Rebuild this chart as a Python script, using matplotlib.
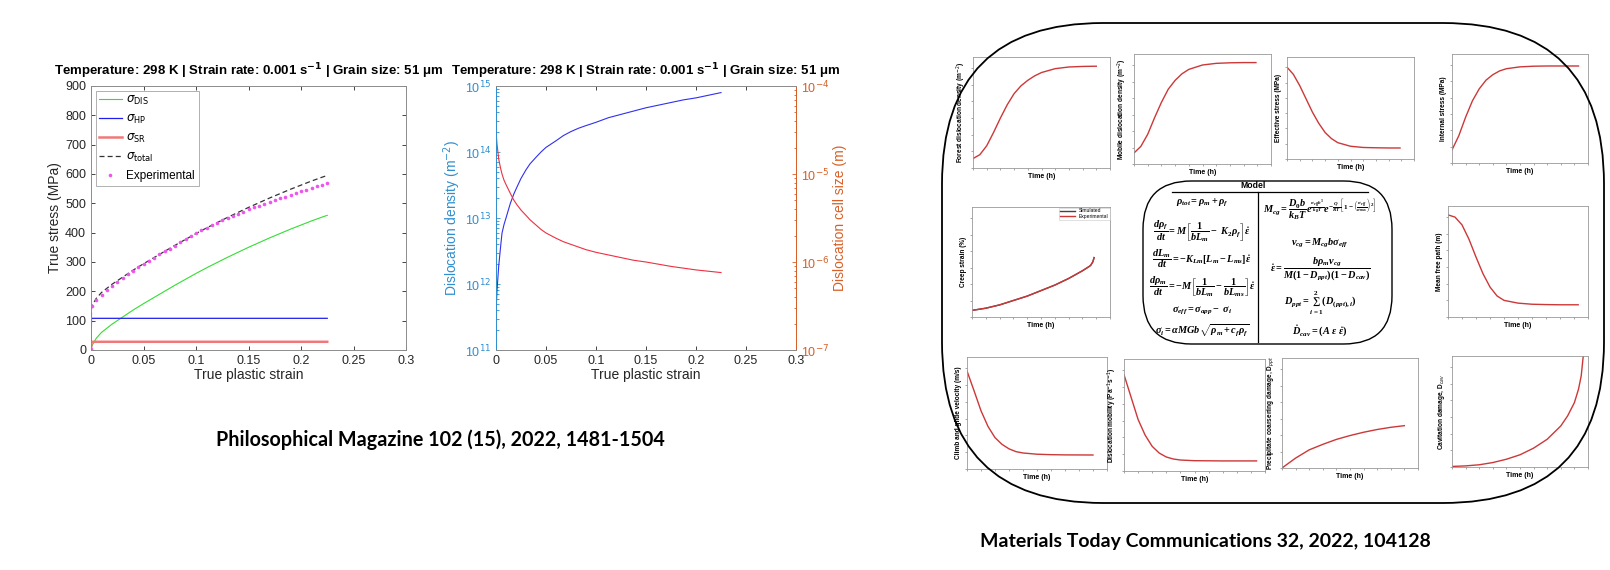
import numpy as np
import matplotlib
matplotlib.use('Agg')
import matplotlib.pyplot as plt
from matplotlib.patches import FancyBboxPatch
from matplotlib.lines import Line2D
from matplotlib.ticker import LogLocator, NullFormatter, MultipleLocator

plt.rcParams['font.family'] = ['Liberation Sans', 'DejaVu Sans']
plt.rcParams['mathtext.fontset'] = 'dejavusans'
# fonts used only by the equation block (math_fontfamily='custom')
plt.rcParams['mathtext.rm'] = 'Liberation Serif:bold'
plt.rcParams['mathtext.it'] = 'Liberation Serif:italic:bold'
plt.rcParams['mathtext.bf'] = 'Liberation Serif:bold'

# ---------------- data: stress contributions (left chart) ----------------
strain = [0, 0.0005, 0.005, 0.01, 0.02, 0.03, 0.04, 0.05, 0.06, 0.07, 0.08, 0.09,
          0.1, 0.11, 0.12, 0.13, 0.14, 0.15, 0.16, 0.17, 0.18, 0.19, 0.2, 0.21,
          0.22, 0.225]
sigma_dis = [0, 12, 40, 60, 88, 112, 136, 158, 179, 200, 221, 241, 261, 280, 298,
             316, 333, 350, 366, 382, 397, 412, 426, 440, 453, 459]
sigma_hp_level = 108
sigma_sr_level = 28

exp_strain = [0, 0.0005, 0.005, 0.01, 0.015, 0.02, 0.025, 0.03, 0.035, 0.04, 0.045,
              0.05, 0.055, 0.06, 0.065, 0.07, 0.075, 0.08, 0.085, 0.09, 0.095, 0.1,
              0.105, 0.11, 0.115, 0.12, 0.125, 0.13, 0.135, 0.14, 0.145, 0.15, 0.155,
              0.16, 0.165, 0.17, 0.175, 0.18, 0.185, 0.19, 0.195, 0.2, 0.205, 0.21,
              0.215, 0.22, 0.225]
exp_stress = [3, 150, 172, 188, 203, 218, 232, 246, 258, 270, 282, 294, 305, 315, 326,
              336, 346, 356, 367, 378, 389, 399, 408, 417, 426, 434, 442, 450, 458,
              465, 472, 479, 486, 492, 499, 505, 511, 517, 523, 529, 535, 541, 547,
              553, 558, 564, 569]

# ---------------- data: dislocation density / cell size (middle chart) ----------------
rho_strain = [0, 0.001, 0.0027, 0.0045, 0.006, 0.008, 0.01, 0.0143, 0.018, 0.021, 0.025,
              0.03, 0.034, 0.04, 0.045, 0.05, 0.06, 0.0675, 0.075, 0.0825, 0.09, 0.1,
              0.1125, 0.125, 0.1375, 0.15, 0.1625, 0.175, 0.1875, 0.2, 0.2125, 0.225]
rho_log = [11.57, 11.9, 12.27, 12.55, 12.77, 12.9, 13.0, 13.22, 13.37, 13.47, 13.6,
           13.73, 13.82, 13.92, 14.0, 14.07, 14.17, 14.25, 14.31, 14.36, 14.4, 14.45,
           14.52, 14.57, 14.62, 14.67, 14.71, 14.75, 14.79, 14.82, 14.86, 14.9]
cell_strain = rho_strain
cell_log = [-4.51, -4.66, -4.83, -4.93, -5.0, -5.07, -5.12, -5.22, -5.3, -5.35, -5.41,
            -5.47, -5.52, -5.58, -5.63, -5.67, -5.73, -5.77, -5.8, -5.83, -5.86, -5.89,
            -5.92, -5.95, -5.98, -6.0, -6.025, -6.05, -6.07, -6.09, -6.105, -6.12]

# ---------------- data: creep model panel (normalised curves) ----------------
forest_t = [0, 0.05, 0.1, 0.15, 0.2, 0.25, 0.3, 0.35, 0.4, 0.45, 0.5, 0.6, 0.7, 0.8, 0.9]
forest_v = [0.085, 0.12, 0.2, 0.32, 0.45, 0.57, 0.67, 0.74, 0.79, 0.83, 0.86, 0.895,
            0.91, 0.915, 0.917]
mobile_t = [0, 0.05, 0.1, 0.15, 0.2, 0.25, 0.3, 0.35, 0.4, 0.5, 0.6, 0.7, 0.8, 0.89]
mobile_v = [0.1, 0.16, 0.27, 0.42, 0.56, 0.68, 0.76, 0.82, 0.86, 0.9, 0.915, 0.92,
            0.922, 0.922]
eff_t = [0, 0.05, 0.1, 0.15, 0.2, 0.25, 0.3, 0.35, 0.4, 0.5, 0.6, 0.7, 0.8, 0.89]
eff_v = [0.9, 0.83, 0.72, 0.59, 0.46, 0.35, 0.26, 0.2, 0.16, 0.125, 0.113, 0.11,
         0.108, 0.108]
int_t = [0, 0.05, 0.1, 0.15, 0.2, 0.25, 0.3, 0.35, 0.4, 0.5, 0.6, 0.7, 0.8, 0.93]
int_v = [0.12, 0.25, 0.42, 0.57, 0.68, 0.76, 0.81, 0.845, 0.865, 0.882, 0.888, 0.89,
         0.89, 0.89]
creep_t = [0, 0.1, 0.2, 0.3, 0.4, 0.5, 0.6, 0.7, 0.8, 0.85, 0.86, 0.875, 0.885]
creep_v = [0.06, 0.08, 0.11, 0.15, 0.19, 0.24, 0.29, 0.35, 0.42, 0.46, 0.47, 0.5, 0.54]
mfp_t = [0, 0.05, 0.1, 0.15, 0.2, 0.25, 0.3, 0.35, 0.4, 0.5, 0.6, 0.7, 0.8, 0.93]
mfp_v = [0.92, 0.9, 0.83, 0.7, 0.54, 0.39, 0.27, 0.19, 0.15, 0.125, 0.115, 0.112,
         0.11, 0.11]
climb_t = [0, 0.05, 0.1, 0.15, 0.2, 0.25, 0.3, 0.35, 0.4, 0.5, 0.6, 0.7, 0.9]
climb_v = [0.875, 0.7, 0.52, 0.38, 0.28, 0.22, 0.18, 0.155, 0.143, 0.132, 0.128,
           0.126, 0.125]
mob_t = [0, 0.05, 0.1, 0.15, 0.2, 0.25, 0.3, 0.35, 0.4, 0.5, 0.7, 0.94]
mob_v = [0.86, 0.66, 0.46, 0.32, 0.22, 0.16, 0.125, 0.107, 0.098, 0.092, 0.09, 0.09]
ppt_t = [0, 0.1, 0.2, 0.3, 0.4, 0.5, 0.6, 0.7, 0.8, 0.9]
ppt_v = [0, 0.09, 0.165, 0.215, 0.26, 0.295, 0.325, 0.35, 0.37, 0.385]
cav_t = [0, 0.1, 0.2, 0.3, 0.4, 0.5, 0.6, 0.7, 0.8, 0.85, 0.9, 0.93, 0.95, 0.965]
cav_v = [0.005, 0.01, 0.02, 0.04, 0.07, 0.11, 0.17, 0.25, 0.37, 0.46, 0.58, 0.7,
         0.82, 1.0]

W, H = 1610, 570
fig = plt.figure(figsize=(W / 100, H / 100), dpi=100)


def box(x0, y0, x1, y1):
    # pixel rectangle (from top-left) -> figure fraction
    return [x0 / W, 1 - y1 / H, (x1 - x0) / W, (y1 - y0) / H]


title = r'Temperature: 298 K | Strain rate: 0.001 s$^{\mathbf{-1}}$ | Grain size: 51 μm'
axcol = '#262626'
edge = '#8c8c8c'

# ---------------- left chart ----------------
ax1 = fig.add_axes(box(91, 86, 406, 350))
s = np.array(strain)
hp = np.where(s > 0, sigma_hp_level, 0)
sr = np.where(s > 0, sigma_sr_level, 0)
total = np.array(sigma_dis) + hp + sr
ax1.plot(s, sigma_dis, color='#33dd33', lw=0.8, label=r'$\sigma_{\mathrm{DIS}}$')
ax1.plot(s, hp, color='#2020ee', lw=0.9, label=r'$\sigma_{\mathrm{HP}}$')
ax1.plot(s, sr, color='#f07878', lw=1.8, label=r'$\sigma_{\mathrm{SR}}$')
ax1.plot(s, total, color='#333333', lw=0.9, ls=(0, (4, 2.5)), label=r'$\sigma_{\mathrm{total}}$')
ax1.plot(exp_strain, exp_stress, ls='none', marker='o', ms=2.6, mec='none',
         color='#ee55ee', label='Experimental')
ax1.set_xlim(0, 0.3)
ax1.set_ylim(0, 900)
ax1.set_xticks([0, 0.05, 0.1, 0.15, 0.2, 0.25, 0.3])
ax1.set_xticklabels(['0', '0.05', '0.1', '0.15', '0.2', '0.25', '0.3'])
ax1.set_yticks(range(0, 901, 100))
ax1.tick_params(direction='in', top=True, right=True, labelsize=9, length=3,
                colors=axcol, width=0.6)
for sp in ax1.spines.values():
    sp.set_color(edge)
    sp.set_linewidth(0.7)
ax1.set_xlabel('True plastic strain', fontsize=10, color=axcol, labelpad=1)
ax1.set_ylabel('True stress (MPa)', fontsize=10, color=axcol, labelpad=2)
ax1.set_title(title, fontsize=9.5, fontweight='bold', pad=7.5)
leg = ax1.legend(loc='upper left', fontsize=8.5, frameon=True, fancybox=False,
                 edgecolor=edge, handlelength=1.9, handletextpad=0.4,
                 borderaxespad=0.4, labelspacing=0.5, borderpad=0.3)
leg.get_frame().set_linewidth(0.6)

# ---------------- middle chart ----------------
ax2 = fig.add_axes(box(496, 86, 796, 350))
ax3 = ax2.twinx()
ax2.plot(rho_strain, 10 ** np.array(rho_log), color='#3030ee', lw=0.8)
ax3.plot(cell_strain, 10 ** np.array(cell_log), color='#ee3040', lw=0.8)
blue = '#2f8fd0'
orange = '#d95f26'
ax2.set_yscale('log')
ax3.set_yscale('log')
ax2.set_xlim(0, 0.3)
ax2.set_ylim(1e11, 1e15)
ax3.set_ylim(1e-7, 1e-4)
ax2.set_xticks([0, 0.05, 0.1, 0.15, 0.2, 0.25, 0.3])
ax2.set_xticklabels(['0', '0.05', '0.1', '0.15', '0.2', '0.25', '0.3'])
ax2.set_yticks([1e11, 1e12, 1e13, 1e14, 1e15])
ax2.set_yticklabels([r'10$^{11}$', r'10$^{12}$', r'10$^{13}$', r'10$^{14}$', r'10$^{15}$'])
ax3.set_yticks([1e-7, 1e-6, 1e-5, 1e-4])
ax3.set_yticklabels([r'10$^{-7}$', r'10$^{-6}$', r'10$^{-5}$', r'10$^{-4}$'])
for a in (ax2, ax3):
    a.yaxis.set_minor_locator(LogLocator(base=10, subs=np.arange(2, 10)))
    a.yaxis.set_minor_formatter(NullFormatter())
ax2.tick_params(axis='x', direction='in', top=True, labelsize=9, colors=axcol,
                length=3, width=0.6)
ax2.tick_params(axis='y', which='both', direction='in', labelsize=9, colors=blue,
                width=0.6)
ax3.tick_params(axis='y', which='both', direction='in', labelsize=9, colors=orange,
                width=0.6)
ax2.tick_params(axis='y', which='major', length=3)
ax2.tick_params(axis='y', which='minor', length=1.8)
ax3.tick_params(axis='y', which='major', length=3)
ax3.tick_params(axis='y', which='minor', length=1.8)
for a in (ax2, ax3):
    for sp in a.spines.values():
        sp.set_color(edge)
        sp.set_linewidth(0.7)
ax3.spines['left'].set_color(blue)
ax3.spines['right'].set_color(orange)
ax2.set_xlabel('True plastic strain', fontsize=10, color=axcol, labelpad=1)
ax2.set_ylabel(r'Dislocation density (m$^{-2}$)', fontsize=10, color=blue, labelpad=1)
ax3.set_ylabel('Dislocation cell size (m)', fontsize=10, color=orange, labelpad=3)
ax2.set_title(title, fontsize=9.5, fontweight='bold', pad=7.5)

# ---------------- right panel: creep model summary ----------------
fig.patches.append(FancyBboxPatch((942 / W, 1 - 503 / H), (1604 - 942) / W,
                                  (503 - 23) / H, boxstyle='round,pad=0,rounding_size=0.1',
                                  transform=fig.transFigure, fill=False, ec='black',
                                  lw=1.3, mutation_aspect=W / H))
fig.patches.append(FancyBboxPatch((1143 / W, 1 - 344 / H), (1392 - 1143) / W,
                                  (344 - 181) / H, boxstyle='round,pad=0,rounding_size=0.03',
                                  transform=fig.transFigure, fill=False, ec='black',
                                  lw=1.0, mutation_aspect=W / H))
fig.add_artist(Line2D([1172 / W, 1368 / W], [1 - 192 / H, 1 - 192 / H],
                      transform=fig.transFigure, color='black', lw=0.9))
fig.add_artist(Line2D([1258 / W, 1258 / W], [1 - 192 / H, 1 - 342 / H],
                      transform=fig.transFigure, color='black', lw=0.9))
fig.text(1253 / W, 1 - 185.5 / H, 'Model', fontsize=6.2, fontweight='bold',
         ha='center', va='center')

eq_left = [
    r'$\rho_{tot} = \rho_m + \rho_f$',
    r'$\dfrac{d\rho_f}{dt} = M\left[\dfrac{1}{bL_m} -\ K_2\rho_f\right]\dot{\varepsilon}$',
    r'$\dfrac{dL_m}{dt} = -K_{Lm}[L_m - L_{ms}]\dot{\varepsilon}$',
    r'$\dfrac{d\rho_m}{dt} = -M\left[\dfrac{1}{bL_m} - \dfrac{1}{bL_{ms}}\right]\dot{\varepsilon}$',
    r'$\sigma_{eff} = \sigma_{app} -\ \sigma_i$',
    r'$\sigma_i = \alpha MGb\sqrt{\rho_m + c_f\rho_f}$',
]
eq_left_y = [203, 231, 259, 287, 311, 331]
eq_right = [
    r'$M_{cg} = \dfrac{D_0b}{k_BT}e^{\frac{\sigma_{eff}b^3}{k_BT}}e^{-\frac{Q}{RT}\left[1-\left(\frac{\sigma_{eff}}{\sigma_{max}}\right)^2\right]}$',
    r'$v_{cg} = M_{cg}b\sigma_{eff}$',
    r'$\dot{\varepsilon} = \dfrac{b\rho_mv_{cg}}{M(1 - D_{ppt})(1 - D_{cav})}$',
    r'$D_{ppt} = \sum_{i=1}^{2}(D_{(ppt),i})$',
    r'$\dot{D}_{cav} = (A\ \varepsilon\ \dot{\varepsilon})$',
]
eq_right_y = [210, 243, 269, 303, 331]
for e, y in zip(eq_left, eq_left_y):
    t = fig.text(1202 / W, 1 - y / H, e, fontsize=7.4, ha='center', va='center')
    t.set_math_fontfamily('custom')
for e, y in zip(eq_right, eq_right_y):
    t = fig.text(1320 / W, 1 - y / H, e, fontsize=7.4, ha='center', va='center')
    t.set_math_fontfamily('custom')

red = '#cc3838'
small = [
    ((973, 57, 1110, 168), forest_t, forest_v, r'Forest dislocation density (m$^{-2}$)'),
    ((1134, 54, 1271, 164), mobile_t, mobile_v, r'Mobile dislocation density (m$^{-2}$)'),
    ((1287, 57, 1414, 159), eff_t, eff_v, 'Effective stress (MPa)'),
    ((1452, 54, 1588, 163), int_t, int_v, 'Internal stress (MPa)'),
    ((972, 207, 1110, 317), creep_t, creep_v, 'Creep strain (%)'),
    ((1448, 206, 1588, 317), mfp_t, mfp_v, 'Mean free path (m)'),
    ((967, 357, 1107, 469), climb_t, climb_v, 'Climb and glide velocity (m/s)'),
    ((1124, 359, 1265, 471), mob_t, mob_v, r'Dislocation mobility (Pa$^{-1}$s$^{-1}$)'),
    ((1282, 358, 1418, 468), ppt_t, ppt_v, r'Precipitate coarsening damage, D$_{ppt}$'),
    ((1452, 356, 1588, 467), cav_t, cav_v, r'Cavitation damage, D$_{cav}$'),
]
for pos, t, v, lab in small:
    a = fig.add_axes(box(*pos))
    if lab.startswith('Creep'):
        a.plot(t, v, color='#444444', lw=1.0, label='Simulated')
        a.plot(t, v, color=red, lw=1.0, label='Experimental')
        lg = a.legend(loc='upper right', fontsize=3.6, frameon=True, fancybox=False,
                      edgecolor='#bbbbbb', handlelength=3, borderpad=0.2,
                      labelspacing=0.1, borderaxespad=0.1)
        lg.get_frame().set_linewidth(0.4)
    else:
        a.plot(t, v, color=red, lw=1.0)
    a.set_xlim(0, 1)
    a.set_ylim(0, 1)
    a.xaxis.set_major_locator(MultipleLocator(0.1))
    a.yaxis.set_major_locator(MultipleLocator(0.15))
    a.tick_params(direction='out', length=1.5, width=0.4, labelbottom=False,
                  labelleft=False, colors='#666666')
    for sp in a.spines.values():
        sp.set_color('#999999')
        sp.set_linewidth(0.6)
    a.set_xlabel('Time (h)', fontsize=5, fontweight='bold', labelpad=2)
    a.set_ylabel(lab, fontsize=4.7, fontweight='bold', labelpad=2)

fig.text(440 / W, 1 - 440 / H, 'Philosophical Magazine 102 (15), 2022, 1481-1504',
         fontsize=14.2, fontweight='bold', family=['Lato', 'DejaVu Sans'],
         ha='center', va='center')
fig.text(980 / W, 1 - 542 / H, 'Materials Today Communications 32, 2022, 104128',
         fontsize=14, fontweight='bold', family=['Lato', 'DejaVu Sans'],
         ha='left', va='center')

fig.savefig('out.png', dpi=100)
